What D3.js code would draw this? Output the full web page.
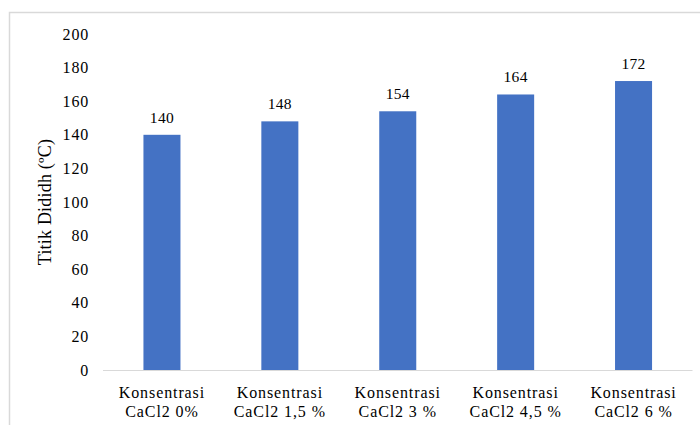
<!DOCTYPE html>
<html><head><meta charset="utf-8">
<script src="https://cdn.jsdelivr.net/npm/d3@7"></script>
<style>
body{margin:0;background:#fff;}
</style></head>
<body><svg id="c" width="700" height="425"></svg>
<script>
const categoriesLine1 = ["Konsentrasi","Konsentrasi","Konsentrasi","Konsentrasi","Konsentrasi"];
const categoriesLine2 = ["CaCl2 0%","CaCl2 1,5 %","CaCl2 3 %","CaCl2 4,5 %","CaCl2 6 %"];
const values = [140,148,154,164,172];
const yTicks = [0,20,40,60,80,100,120,140,160,180,200];
const yTitle = "Titik Dididh (ºC)";

const FONT = "'Liberation Serif', 'Times New Roman', Tinos, 'DejaVu Serif', serif";
const svg = d3.select("#c").attr("font-family", FONT);
svg.append("rect").attr("x",0).attr("y",0).attr("width",700).attr("height",425).attr("fill","#fff");
// chart frame
svg.append("rect").attr("x",9.5).attr("y",12.5).attr("width",720).attr("height",440)
  .attr("fill","#fff").attr("stroke","#d9d9d9").attr("stroke-width",1.5);

const idx = d3.range(values.length);
const x = d3.scaleBand().domain(idx).range([103,692.5]).padding(0);
const y = d3.scaleLinear().domain([0,200]).range([370,34]);
const barW = x.bandwidth()*0.314;

// y tick labels
svg.append("g").selectAll("text").data(yTicks).join("text")
  .attr("font-family",FONT)
  .attr("x",89).attr("y",d=>y(d)).attr("dy","0.35em")
  .attr("text-anchor","end").attr("font-size",16).attr("letter-spacing","0.8px")
  .text(d=>d);

// bars
svg.append("g").selectAll("rect").data(idx).join("rect")
  .attr("x",i=>x(i)+x.bandwidth()/2-barW/2).attr("width",barW)
  .attr("y",i=>y(values[i])).attr("height",i=>y(0)-y(values[i]))
  .attr("fill","#4472C4");

// x axis line
svg.append("line").attr("x1",103).attr("x2",692.5).attr("y1",370.5).attr("y2",370.5)
  .attr("stroke","#d9d9d9").attr("stroke-width",1.2);

// value labels
svg.append("g").selectAll("text").data(idx).join("text")
  .attr("font-family",FONT)
  .attr("x",i=>x(i)+x.bandwidth()/2).attr("y",i=>y(values[i])-12)
  .attr("text-anchor","middle").attr("font-size",15.5).attr("letter-spacing","0.3px")
  .text(i=>values[i]);

// category labels
const cat = svg.append("g").selectAll("text").data(idx).join("text")
  .attr("font-family",FONT)
  .attr("text-anchor","middle").attr("font-size",16).attr("letter-spacing","0.9px");
cat.append("tspan").attr("x",i=>x(i)+x.bandwidth()/2).attr("y",398).text(i=>categoriesLine1[i]);
cat.append("tspan").attr("x",i=>x(i)+x.bandwidth()/2).attr("y",417).text(i=>categoriesLine2[i]);

// y title
svg.append("text").attr("font-family",FONT).attr("transform","translate(51,202) rotate(-90)")
  .attr("text-anchor","middle").attr("font-size",18).attr("letter-spacing","0.2px")
  .text(yTitle);
</script></body></html>
